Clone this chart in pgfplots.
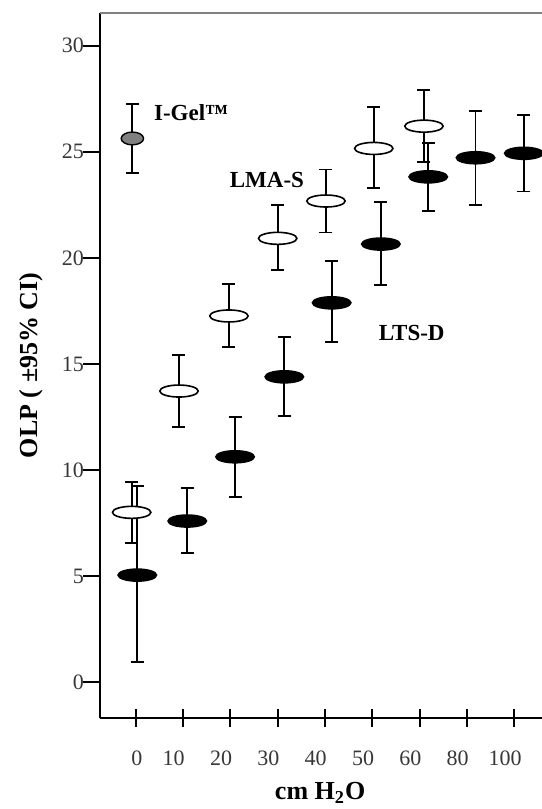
\documentclass[border=0pt]{standalone}
\usepackage{fontspec}
\setmainfont{Liberation Serif}
\usepackage{pgfplots}
\usepackage{pgfplotstable}
\pgfplotsset{compat=1.18}
\usetikzlibrary{calc}
\definecolor{igelgray}{RGB}{128,128,128}
\definecolor{tickgray}{RGB}{55,55,55}

% LMA-S (open ellipses)
\pgfplotstableread{
x      y     ep    em
-0.085 8.00  1.44  1.46
0.915  13.72 1.70  1.71
1.97   17.26 1.50  1.45
3.00   20.92 1.57  1.50
4.02   22.68 1.49  1.48
5.03   25.16 1.96  1.88
6.09   26.21 1.70  1.68
}\lmas

% LTS-D (filled ellipses)
\pgfplotstableread{
x      y     ep    em
0.034  5.04  4.20  4.08
1.09   7.59  1.57  1.52
2.10   10.62 1.89  1.88
3.14   14.39 1.86  1.83
4.14   17.88 1.98  1.84
5.18   20.65 1.97  1.93
6.18   23.82 1.61  1.60
7.18   24.72 2.20  2.23
8.20   24.93 1.80  1.80
}\ltsd

% I-Gel
\pgfplotstableread{
x      y     ep    em
-0.07  25.63 1.64  1.63
}\igel

\begin{document}
\begin{tikzpicture}
\begin{axis}[
    width=221pt, height=352.65pt, scale only axis,
    xmin=-0.754, xmax=8.584, ymin=-1.697, ymax=31.56,
    axis x line*=bottom, axis y line*=left,
    x axis line style={-, line width=1pt},
    y axis line style={-, line width=1pt},
    xtick={0,...,8},
    xticklabels={\hspace{10.6pt}0,10,20,30,40,50,60,80,100},
    ytick={0,5,...,30},
    xtick align=center, ytick align=outside,
    major tick length=8.5pt,
    tick style={line width=1pt, black},
    /pgf/number format/assume math mode=true,
    ticklabel style={font=\fontsize{11}{13}\selectfont, text=tickgray},
    xticklabel style={xshift=-4.65pt},
    yticklabel style={xshift=4pt},
    xticklabel shift=8.5pt,
    xlabel={\textbf{cm H\textsubscript{2}O}},
    ylabel={\textbf{OLP ( ±95\% CI)}},
    every axis x label/.style={at={(axis description cs:0.498,-0.1063)}, anchor=center,
        font=\fontsize{13}{15}\selectfont},
    every axis y label/.style={at={(axis description cs:-0.156,0.5)}, rotate=90, anchor=center,
        font=\fontsize{13}{15}\selectfont},
    clip=false,
]
\addplot[only marks, mark=*, mark size=3pt,
    mark options={xscale=3.2, fill=white, draw=black, line width=0.8pt},
    error bars/.cd, y dir=both, y explicit,
    error bar style={line width=0.9pt, black},
    error mark options={mark size=3.25pt, line width=0.9pt, rotate=90, xscale=1}]
    table[x=x, y=y, y error plus=ep, y error minus=em]{\lmas};
\addplot[only marks, mark=*, mark size=3pt,
    mark options={xscale=3.2, fill=black, draw=black, line width=0.8pt},
    error bars/.cd, y dir=both, y explicit,
    error bar style={line width=0.9pt, black},
    error mark options={mark size=3.25pt, line width=0.9pt, rotate=90, xscale=1}]
    table[x=x, y=y, y error plus=ep, y error minus=em]{\ltsd};
\addplot[only marks, mark=*, mark size=3.2pt,
    mark options={xscale=1.75, fill=igelgray, draw=black, line width=0.7pt},
    error bars/.cd, y dir=both, y explicit,
    error bar style={line width=0.9pt, black},
    error mark options={mark size=3.25pt, line width=0.9pt, rotate=90, xscale=1}]
    table[x=x, y=y, y error plus=ep, y error minus=em]{\igel};

\node[anchor=west, font=\bfseries\fontsize{11.5}{13}\selectfont] at (axis cs:0.24,26.87) {I-Gel™};
\node[anchor=west, font=\bfseries\fontsize{11.5}{13}\selectfont] at (axis cs:1.84,23.67) {LMA-S};
\node[anchor=west, font=\bfseries\fontsize{11.5}{13}\selectfont] at (axis cs:4.99,16.45) {LTS-D};
\end{axis}
\draw[line width=1pt, gray] (current axis.north west) -- (current axis.north east);
\pgfresetboundingbox
\path[use as bounding box] ($(current axis.south west)+(-50pt,-45.5pt)$) rectangle ($(current axis.north east)+(0pt,6.35pt)$);
\end{tikzpicture}
\end{document}
